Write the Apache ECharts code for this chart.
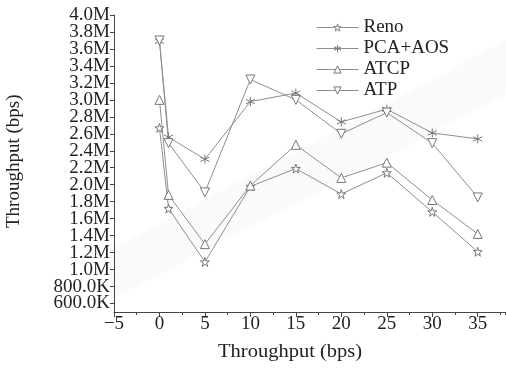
<!DOCTYPE html>
<html><head><meta charset="utf-8">
<script src="https://cdn.jsdelivr.net/npm/echarts@6/dist/echarts.min.js"></script>
<style>html,body{margin:0;padding:0;background:#fff}#c{width:506px;height:373px}</style>
</head><body><div id="c"></div>
<script>
const xValues = [0, 1, 5, 10, 15, 20, 25, 30, 35];
const reno   = [2.67, 1.72, 1.09, 1.98, 2.19, 1.89, 2.14, 1.68, 1.21];
const pcaAos = [3.69, 2.56, 2.30, 2.98, 3.08, 2.74, 2.89, 2.61, 2.54];
const atcp   = [3.00, 1.88, 1.30, 1.99, 2.47, 2.08, 2.26, 1.82, 1.42];
const atp    = [3.70, 2.49, 1.91, 3.24, 3.00, 2.60, 2.85, 2.49, 1.85];
const seriesNames = ['Reno', 'PCA+AOS', 'ATCP', 'ATP'];
const xTicks = [-5, 0, 5, 10, 15, 20, 25, 30, 35];
const yTicks = [600000, 800000, 1000000, 1200000, 1400000, 1600000, 1800000, 2000000, 2200000, 2400000,
  2600000, 2800000, 3000000, 3200000, 3400000, 3600000, 3800000, 4000000];
const xTitle = 'Throughput (bps)';
const yTitle = 'Throughput (bps)';

const FONT = '"Liberation Serif", "Times New Roman", serif';
const GRAY = '#8f8f8f';
const STAR = 'path://M50,0 L61,35 L98,35 L68,57 L79,91 L50,70 L21,91 L32,57 L2,35 L39,35 Z';
const ASTER = 'path://M50,0 L50,100 M7,25 L93,75 M7,75 L93,25';
const yEven = yTicks.filter((v,i)=>i%2===0);
const yOdd = yTicks.filter((v,i)=>i%2===1);
const yFmt = v=> v>=1e6 ? (v/1e6).toFixed(1)+'M' : (v/1e3).toFixed(1)+'K';

function toPairs(vals){ return xValues.map((x,i)=>[x, vals[i]*1e6]); }
function mk(name, vals, symbol, rotate, size){
  return {
    name, type:'line', data: toPairs(vals), symbol, symbolSize: size, symbolRotate: rotate,
    lineStyle:{color:GRAY, width:1}, itemStyle:{color:'#fff', borderColor:'#777', borderWidth:1},
    emphasis:{disabled:true}, animation:false, z: 3
  };
}
function yAx(vals, showLine){
  return {
    type:'value', min:500000, max:4000000, position:'left',
    axisLine:{show:showLine, onZero:false, lineStyle:{color:'#444', width:1}},
    axisTick:{show:true, length:4, lineStyle:{color:'#444'}, customValues:vals},
    axisLabel:{customValues:vals, showMinLabel:true, showMaxLabel:true, margin:4,
      fontFamily:FONT, fontSize:19, color:'#222', formatter:yFmt},
    splitLine:{show:false}
  };
}
const chart = echarts.init(document.getElementById('c'));
chart.setOption({
  backgroundColor:'#fff',
  animation:false,
  grid:{left:114, right:1, top:15, bottom:61},
  graphic:[
    {type:'polygon', silent:true, z:-10, shape:{points:[[110,250],[506,40],[506,95],[110,300]]},
     style:{fill:'rgba(240,240,240,0.3)'}},
    {type:'text', x:218, y:343, scaleX:1.08, style:{text:xTitle, font:'19px '+FONT, fill:'#222'}},
    {type:'text', x:5, y:228, rotation:Math.PI/2, style:{text:yTitle, font:'19px '+FONT, fill:'#222'}}
  ],
  legend:{
    orient:'vertical', left:311, top:13, itemWidth:42, itemHeight:9, itemGap:2,
    data: seriesNames,
    itemStyle:{color:'#fff', borderColor:'#777', borderWidth:1},
    lineStyle:{color:GRAY, width:1},
    textStyle:{fontFamily:FONT, fontSize:19, color:'#222', lineHeight:18}
  },
  xAxis:[{
    type:'value', min:-5, max:38,
    axisLine:{onZero:false, lineStyle:{color:'#444', width:1}},
    axisTick:{show:true, length:5, lineStyle:{color:'#444'}, customValues:xTicks},
    axisLabel:{customValues:xTicks, fontFamily:FONT, fontSize:19, color:'#222', margin:3,
      formatter:v=> v<0 ? '\u2212'+Math.abs(v) : String(v)},
    splitLine:{show:false}
  },{
    type:'value', min:-5, max:38, interval:2.5, position:'bottom',
    axisLine:{show:false},
    axisTick:{show:true, length:3, lineStyle:{color:'#444'}},
    axisLabel:{show:false}, splitLine:{show:false}
  }],
  yAxis:[yAx(yEven, true), yAx(yOdd, false)],
  series:[
    mk('Reno', reno, STAR, 0, 9),
    mk('PCA+AOS', pcaAos, ASTER, 0, 9),
    mk('ATCP', atcp, 'triangle', 0, 9),
    mk('ATP', atp, 'triangle', 180, 9)
  ]
});
</script></body></html>
